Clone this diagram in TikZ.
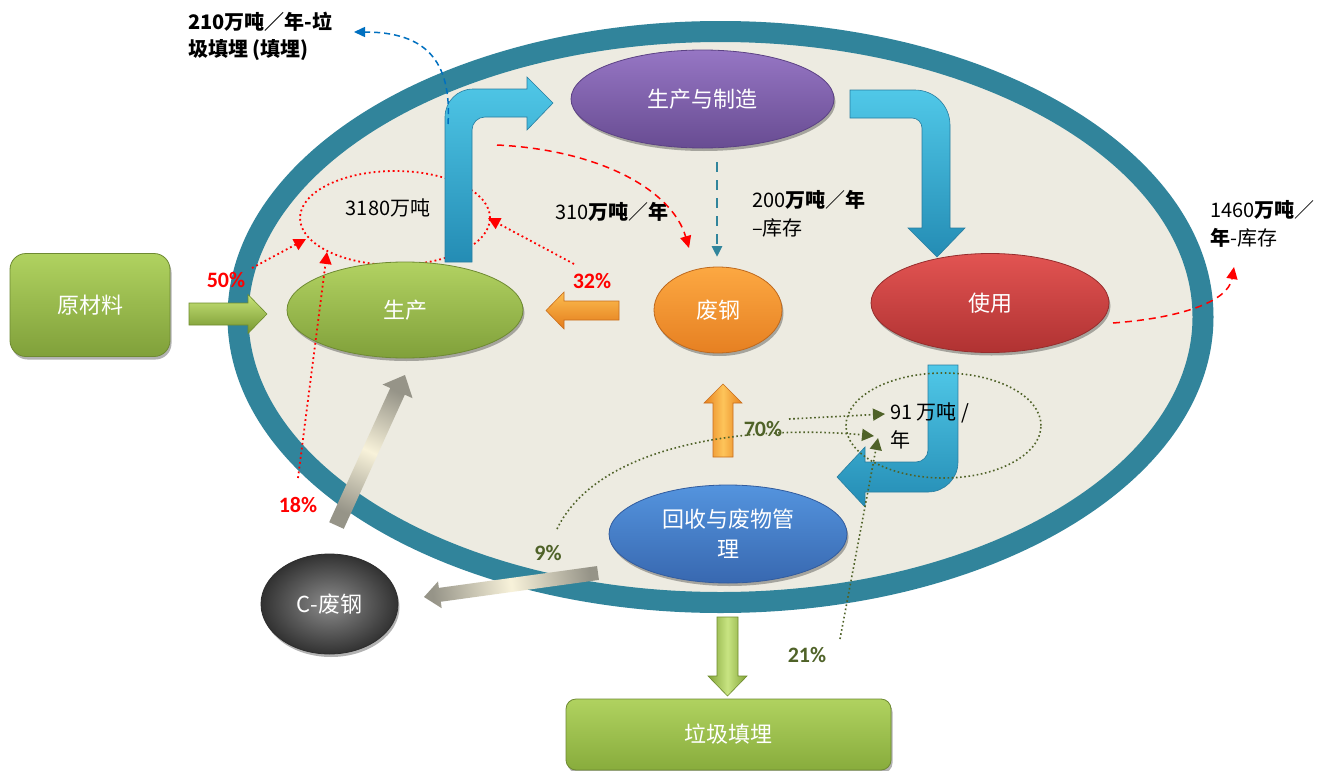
\documentclass[tikz,border=0pt]{standalone}
\usepackage{fontspec}
\setmainfont{Noto Sans CJK SC}
\newfontfamily\lat{Carlito}
\usetikzlibrary{arrows.meta,shapes.geometric,shadows,calc}
\definecolor{ringc}{HTML}{31849B}
\definecolor{bgc}{HTML}{EDEBE1}
\definecolor{olivec}{HTML}{4F6228}
\definecolor{pctred}{HTML}{FF0000}
\definecolor{dblue}{HTML}{0070C0}
\definecolor{tealdash}{HTML}{31859C}
\definecolor{greyend}{RGB}{150,148,136}
\definecolor{greymid}{RGB}{248,242,218}
\newcommand\blockarr[6]{%
  \coordinate (#2-h) at ($(#3)!#6!(#2)$);
  \path[#1] ($(#2)!#4!90:(#3)$) -- ($(#2-h)!#4!90:(#3)$) -- ($(#2-h)!#5!90:(#3)$) -- (#3)
     -- ($(#2-h)!#5!-90:(#3)$) -- ($(#2-h)!#4!-90:(#3)$) -- ($(#2)!#4!-90:(#3)$) -- cycle;}
\begin{document}
\begin{tikzpicture}[x=1pt,y=-1pt,
  shd/.style={drop shadow={shadow xshift=1.5pt,shadow yshift=-3pt,opacity=.3,fill=black}},
  lbl/.style={text=white,font=\fontsize{22}{26}\selectfont,align=center},
  pct/.style={font=\lat\bfseries\fontsize{22}{24}\selectfont,inner sep=0pt},
  txt/.style={font=\fontsize{20}{24}\selectfont,inner sep=0pt,text=black},
  ellnode/.style={ellipse,inner sep=0pt,line width=0.8pt,shd},
  reddot/.style={draw=pctred,line width=1.8pt,dash pattern=on 1.8pt off 3pt},
  reddash/.style={draw=pctred,line width=1.5pt,dash pattern=on 7pt off 5pt},
  olivedot/.style={draw=olivec,line width=1.6pt,dash pattern=on 1.6pt off 2.6pt},
  rtip/.style={-{Triangle[length=12pt,width=12pt]}},
  otip/.style={-{Triangle[length=12pt,width=12pt]}},
  bentarr/.style={shade,shading angle=#1,top color={rgb,255:red,80;green,200;blue,232},bottom color={rgb,255:red,36;green,140;blue,180},draw={rgb,255:red,40;green,125;blue,160},line width=0.6pt},
]
\useasboundingbox (0,0) rectangle (1326,771);
\fill[white] (0,0) rectangle (1326,771);

% system ring
\node[ellipse,draw=ringc,line width=21pt,fill=bgc,minimum width=965pt,minimum height=571pt,inner sep=0pt] (system) at (720.5,317) {};

% raw material box and arrow
\node[rectangle,rounded corners=16pt,minimum width=160pt,minimum height=103pt,top color={rgb,255:red,176;green,210;blue,96},
      bottom color={rgb,255:red,128;green,160;blue,58},draw={rgb,255:red,110;green,138;blue,50},line width=0.8pt,shd,lbl] (raw) at (90,305) {原材料};
\coordinate (ga-s) at (189,314);
\coordinate (ga-e) at (267,314);
\blockarr{top color={rgb,255:red,200;green,228;blue,120},bottom color={rgb,255:red,118;green,150;blue,48},draw={rgb,255:red,110;green,140;blue,45},line width=0.6pt}{ga-s}{ga-e}{11pt}{19.5pt}{19pt}

% red dotted ellipse 3180
\node[ellipse,reddot,minimum width=190pt,minimum height=94pt,inner sep=0pt] (ring3180) at (395,218) {};

% blue bent arrows
\path[bentarr=-30]
  (445,262) -- (445,117) .. controls (445,101.5) and (457.5,89) .. (473,89) -- (527,89) -- (527,77) -- (553,103)
  -- (527,130) -- (527,117) -- (485,117) .. controls (477.8,117) and (472,122.8) .. (472,130) -- (472,262) -- cycle;
\path[bentarr=30]
  (850,90) -- (915,90) .. controls (934.3,90) and (950,105.7) .. (950,125) -- (950,228) -- (965,228) -- (937,257)
  -- (908,228) -- (922,228) -- (922,128) .. controls (922,122.5) and (917.5,118) .. (912,118) -- (850,118) -- cycle;
\path[bentarr=-120]
  (928,365) -- (958,365) -- (958,462) .. controls (958,478.6) and (944.6,492) .. (928,492) -- (865,492) -- (865,507)
  -- (837,477) -- (865,447) -- (865,462) -- (916,462) .. controls (922.6,462) and (928,456.6) .. (928,450) -- cycle;

% main nodes
\node[ellnode,minimum width=236pt,minimum height=96pt,top color={rgb,255:red,178;green,210;blue,98},bottom color={rgb,255:red,128;green,160;blue,58},draw={rgb,255:red,110;green,138;blue,50},lbl] (prod) at (405,310) {生产};
\node[ellnode,minimum width=263pt,minimum height=98pt,top color={rgb,255:red,150;green,118;blue,196},bottom color={rgb,255:red,104;green,76;blue,146},draw={rgb,255:red,92;green,66;blue,132},lbl] (manu) at (702.5,99) {生产与制造};
\node[ellnode,minimum width=128pt,minimum height=86pt,top color={rgb,255:red,252;green,168;blue,66},bottom color={rgb,255:red,230;green,128;blue,34},draw={rgb,255:red,190;green,105;blue,30},lbl] (scrap) at (718,310) {废钢};
\node[ellnode,minimum width=238pt,minimum height=99pt,top color={rgb,255:red,226;green,84;blue,82},bottom color={rgb,255:red,176;green,50;blue,50},draw={rgb,255:red,150;green,45;blue,45},lbl] (use) at (990,303) {使用};
\node[ellnode,minimum width=238pt,minimum height=98pt,top color={rgb,255:red,84;green,148;blue,222},bottom color={rgb,255:red,56;green,104;blue,176},draw={rgb,255:red,50;green,92;blue,158},lbl,font=\fontsize{22}{30}\selectfont] (recy) at (728,534) {回收与废物管\\理};
\node[ellnode,minimum width=137pt,minimum height=100pt,inner color={rgb,255:red,140;green,140;blue,140},outer color={rgb,255:red,50;green,50;blue,50},draw={rgb,255:red,45;green,45;blue,45},lbl] (cscrap) at (329.5,604) {C-废钢};
\node[rectangle,rounded corners=10pt,minimum width=325pt,minimum height=71pt,top color={rgb,255:red,176;green,210;blue,96},bottom color={rgb,255:red,136;green,172;blue,60},draw={rgb,255:red,110;green,138;blue,50},line width=0.8pt,shd,lbl] (landfill) at (728.5,734.5) {垃圾填埋};

% block arrows
\coordinate (oa-s) at (619,310.5);
\coordinate (oa-e) at (546,310.5);
\blockarr{top color={rgb,255:red,252;green,190;blue,80},bottom color={rgb,255:red,228;green,124;blue,28},draw={rgb,255:red,200;green,110;blue,30},line width=0.6pt}{oa-s}{oa-e}{9.5pt}{18.5pt}{18pt}
\coordinate (ou-s) at (723,457);
\coordinate (ou-e) at (723,384);
\blockarr{left color={rgb,255:red,232;green,130;blue,30},right color={rgb,255:red,232;green,130;blue,30},middle color={rgb,255:red,253;green,196;blue,90},draw={rgb,255:red,200;green,110;blue,30},line width=0.6pt}{ou-s}{ou-e}{10pt}{19pt}{19pt}
\coordinate (gu-s) at (336.5,525.5);
\coordinate (gu-e) at (405,375);
\blockarr{top color=greyend,bottom color=greyend,middle color=greymid,shading angle=-25}{gu-s}{gu-e}{8pt}{16.5pt}{18pt}
\coordinate (gl-s) at (598,573);
\coordinate (gl-e) at (424,597);
\blockarr{left color=greyend,right color=greyend,middle color=greymid,shading angle=98}{gl-s}{gl-e}{7pt}{13.5pt}{16pt}
\coordinate (gd-s) at (727.5,617);
\coordinate (gd-e) at (727.5,696);
\blockarr{left color={rgb,255:red,130;green,164;blue,56},right color={rgb,255:red,130;green,164;blue,56},middle color={rgb,255:red,200;green,228;blue,130},draw={rgb,255:red,110;green,140;blue,45},line width=0.6pt}{gd-s}{gd-e}{10.5pt}{19.5pt}{20pt}

% teal dashed arrow manufacture -> scrap
\coordinate (td-s) at (717,162);
\coordinate (td-e) at (717,257);
\draw[tealdash,line width=2.8pt,dash pattern=on 10pt off 8pt,-{Triangle[length=11pt,width=10pt]}] (td-s) -- (td-e);

% texts
\node[txt,anchor=center] (t3180) at (388,208) {3180万吨};
\node[txt,anchor=west] (t310) at (555,212) {310{\bfseries 万吨}／{\bfseries 年}};
\node[txt,anchor=west] (t200a) at (752,200) {200{\bfseries 万吨}／{\bfseries 年}};
\node[txt,anchor=west] (t200b) at (752,228) {–库存};
\node[txt,anchor=west] (t1460a) at (1210,210) {1460{\bfseries 万吨}／};
\node[txt,anchor=west] (t1460b) at (1210,238) {{\bfseries 年}-库存};
\node[txt,anchor=west] (t210a) at (188,22) {\bfseries 210万吨／年-垃};
\node[txt,anchor=west] (t210b) at (188,50) {\bfseries 圾填埋 (填埋)};
\node[txt,anchor=west] (t91a) at (890,413) {91 万吨 /};
\node[txt,anchor=west] (t91b) at (890,440) {年};

% percentages
\node[pct,text=pctred] (p50) at (226,280) {50\%};
\node[pct,text=pctred] (p32) at (592,281) {32\%};
\node[pct,text=pctred] (p18) at (298,505) {18\%};
\node[pct,text=olivec] (p70) at (763,429) {70\%};
\node[pct,text=olivec] (p9) at (548,553) {9\%};
\node[pct,text=olivec] (p21) at (807,655) {21\%};

% red dotted arrows
\coordinate (r50s) at (252,268);
\coordinate (r50e) at (306,239);
\coordinate (r18s) at (298,478);
\coordinate (r18e) at (327,252);
\coordinate (r32s) at (574,264);
\coordinate (r32e) at (488,218);
\draw[reddot,rtip] (r50s) -- (r50e);
\draw[reddot,rtip] (r18s) -- (r18e);
\draw[reddot,rtip] (r32s) -- (r32e);

% red dashed arrows
\coordinate (rd1s) at (497,145);
\coordinate (rd1e) at (689,248);
\draw[reddash,-{Triangle[length=12pt,width=11pt]}] (rd1s) .. controls (600,150) and (672,190) .. (rd1e);
\coordinate (rd2s) at (1113,323);
\coordinate (rd2e) at (1234,267);
\draw[reddash,-{Triangle[length=12pt,width=11pt]}] (rd2s) .. controls (1180,318) and (1228,302) .. (rd2e);

% blue dashed arrow to landfill text
\coordinate (bd-s) at (448,124);
\coordinate (bd-e) at (354,32);
\draw[dblue,line width=1.5pt,dash pattern=on 6pt off 4pt,-{Triangle[length=11pt,width=10pt]}] (bd-s) .. controls (452,60) and (425,32) .. (bd-e);

% olive dotted ellipse and arrows
\node[ellipse,olivedot,minimum width=195pt,minimum height=105pt,inner sep=0pt] (ring91) at (943.5,425.5) {};
\coordinate (o70s) at (789,419);
\coordinate (o70e) at (885,414);
\coordinate (o9s) at (557,529);
\coordinate (o9e) at (874,436);
\coordinate (o21s) at (840,639);
\coordinate (o21e) at (878,438);
\draw[olivedot,otip] (o70s) -- (o70e);
\draw[olivedot,otip] (o9s) .. controls (600,440) and (760,425) .. (o9e);
\draw[olivedot,otip] (o21s) -- (o21e);
\end{tikzpicture}
\end{document}
